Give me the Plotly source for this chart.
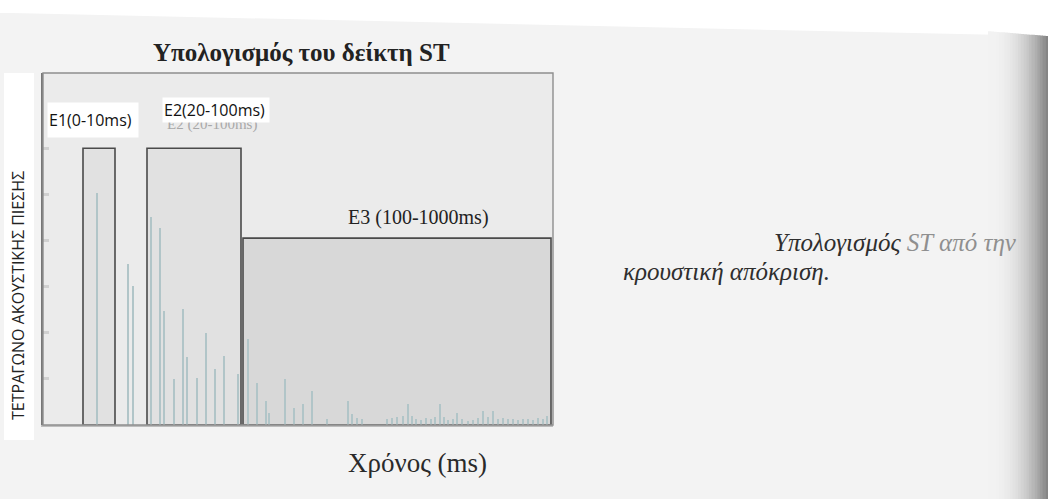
import plotly.graph_objects as go

W, H = 1048, 499

# Impulse response: stem position along the (schematic) time axis and squared pressure level
stem_pos = [54, 85, 90, 108, 117, 121, 131, 140, 144, 154, 163, 172, 181, 195,
            205, 214, 223, 226, 242, 251, 260, 269, 284, 305, 309, 314, 319,
            344, 349, 354, 360, 365, 369, 373, 378, 383, 388, 392, 397, 401,
            405, 410, 414, 419, 425, 430, 435, 440, 445, 450, 455, 460, 465,
            470, 475, 480, 485, 490, 495, 500, 504]
stem_level = [5.02, 3.5, 3.02, 4.5, 4.26, 2.48, 1.0, 2.52, 1.48, 1.02, 2.0, 1.22, 1.5, 1.1,
              1.86, 0.9, 0.52, 0.26, 1.0, 0.37, 0.45, 0.74, 0.13, 0.52, 0.23, 0.15, 0.13,
              0.12, 0.15, 0.18, 0.2, 0.46, 0.2, 0.12, 0.1, 0.15, 0.14, 0.18, 0.46, 0.18,
              0.1, 0.12, 0.25, 0.12, 0.08, 0.1, 0.16, 0.3, 0.18, 0.3, 0.12, 0.16, 0.14,
              0.12, 0.1, 0.12, 0.14, 0.1, 0.16, 0.14, 0.2]

# Energy integration windows
window_names = ["E1(0-10ms)", "E2(20-100ms)", "E3 (100-1000ms)"]
window_start = [40, 104, 200]
window_end = [72, 198, 508]
window_level = [6.0, 6.0, 4.05]

level_ticks = [1, 2, 3, 4, 5, 6]
x_span = [0, 510]
y_span = [0, 7.63]

title_text = "Υπολογισμός του δείκτη ST"
x_title = "Χρόνος (ms)"
y_title = "ΤΕΤΡΑΓΩΝΟ ΑΚΟΥΣΤΙΚΗΣ ΠΙΕΣΗΣ"
caption_1 = "Υπολογισμός"
caption_1_faded = "ST από την"
caption_2 = "κρουστική απόκριση."

SERIF = "Liberation Serif, Times New Roman, serif"
SANS = "Open Sans, Noto Sans, sans-serif"


def px(x):
    return x / W


def py(y):
    return 1 - y / H


def label(text, x, y, size, family, color, xanchor="center", **kw):
    return dict(text=text, x=px(x), y=py(y), xref="paper", yref="paper",
                xanchor=xanchor, yanchor="middle", showarrow=False,
                font=dict(family=family, size=size, color=color), **kw)


fig = go.Figure()
fig.add_trace(go.Bar(
    x=stem_pos, y=stem_level, width=2.3,
    marker=dict(color="#b1c5c8", line=dict(width=0)),
    showlegend=False, hoverinfo="skip",
))

shapes = []
# top paper edge and binding shadow
shapes.append(dict(type="path", xref="paper", yref="paper", layer="below",
                   path=f"M 0,1 L 1,1 L 1,{py(36)} L {px(12)},{py(13)} L 0,{py(13)} Z",
                   fillcolor="#ffffff", line=dict(width=0)))
n_shade = 22
for i in range(n_shade):
    t = (i + 1) / n_shade
    g = int(243 - 110 * t ** 2.4)
    x0 = 988 + i * (60 / n_shade)
    shapes.append(dict(type="rect", xref="paper", yref="paper", layer="above",
                       x0=px(x0), x1=px(x0 + 60 / n_shade + 0.5), y0=0, y1=py(31 + 5 * t),
                       fillcolor=f"rgb({g},{g},{g})", line=dict(width=0)))
# white strip behind the vertical axis title
shapes.append(dict(type="rect", xref="paper", yref="paper", layer="below",
                   x0=px(4), x1=px(34), y0=py(440), y1=py(73),
                   fillcolor="#ffffff", line=dict(width=0)))
# integration windows
fills = ["#e1e1e1", "#e1e1e1", "#d8d8d8"]
for s, e, lv, fc in zip(window_start, window_end, window_level, fills):
    shapes.append(dict(type="rect", xref="x", yref="y", layer="below",
                       x0=s, x1=e, y0=0, y1=lv, fillcolor=fc,
                       line=dict(color="#4a4a4a", width=1.6)))
# outer frame
shapes.append(dict(type="rect", xref="x domain", yref="y domain", layer="above",
                   x0=0, x1=1, y0=0, y1=1, line=dict(color="#8e8e8e", width=1.4)))

ann = [
    label(f"<b>{title_text}</b>", 301, 52, 25, SERIF, "#222222"),
    label(x_title, 417, 463, 27, SERIF, "#2a2a2a"),
    label(y_title, 18, 296, 16, SANS, "#222222", textangle=-90),
    label(window_names[0], 47, 120, 16, SANS, "#111111", xanchor="left",
          bgcolor="#ffffff", width=88, height=32, align="left"),
    label("E2 (20-100ms)", 165, 125, 15, SERIF, "#a8a8a8", xanchor="left"),
    label(window_names[1], 162, 110, 16, SANS, "#111111", xanchor="left",
          bgcolor="#ffffff", width=104, height=22, align="left"),
    label(window_names[2], 418, 217, 20, SERIF, "#222222"),
    label(f"<i>{caption_1} <span style='color:#8f8f8f'>{caption_1_faded}</span></i>",
          772, 243, 25, SERIF, "#2e2e2e", xanchor="left"),
    label(f"<i>{caption_2}</i>", 621, 271, 25, SERIF, "#2e2e2e", xanchor="left"),
]

fig.update_layout(
    width=W, height=H, margin=dict(l=0, r=0, t=0, b=0),
    paper_bgcolor="#f3f3f3", plot_bgcolor="#ebebeb",
    bargap=0, shapes=shapes, annotations=ann,
    xaxis=dict(domain=[px(43), px(553)], range=x_span, showgrid=False, zeroline=False,
               showticklabels=False, ticks="", showline=True, linecolor="#bdbdbd", linewidth=2),
    yaxis=dict(domain=[py(425), py(73)], range=y_span, showgrid=False, zeroline=False,
               showticklabels=False, ticks="inside", tickvals=level_ticks, ticklen=6,
               tickwidth=3, tickcolor="#d0d0d0", showline=True, linecolor="#777777", linewidth=1.5),
)

fig.write_html("out.html")
